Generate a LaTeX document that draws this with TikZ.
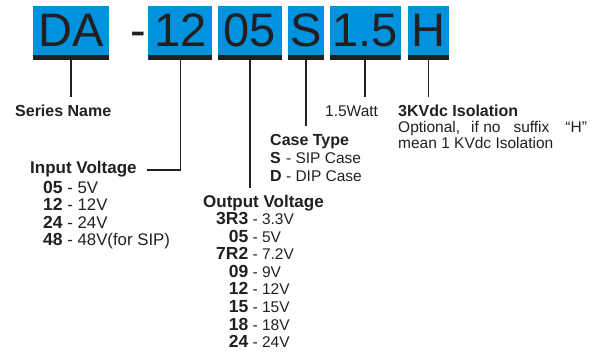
\documentclass[tikz,border=0pt]{standalone}
\usepackage{fontspec}
\setmainfont{Liberation Sans}
\usetikzlibrary{positioning}
\definecolor{codeblue}{RGB}{0,146,221}
\definecolor{inkblack}{RGB}{35,31,32}

\begin{document}
\begin{tikzpicture}[
    x=1pt, y=-1pt,
    every node/.style={font=\fontsize{15.5}{17.3}\selectfont, inner sep=0pt, text=inkblack},
    code/.style={fill=codeblue, minimum width=#1, minimum height=54pt, text height=34pt, text depth=6pt,
        font=\fontsize{47}{47}\selectfont,
        path picture={\fill[inkblack] (path picture bounding box.south west) rectangle ([yshift=5pt]path picture bounding box.south east);}},
    caption/.style={anchor=base west, text height=11pt, text depth=3pt, inner ysep=8pt},
    title/.style={caption, font=\fontsize{16}{16}\selectfont\bfseries},
    bigtitle/.style={caption, font=\fontsize{17}{17}\selectfont\bfseries},
    list/.style={anchor=base west},
    lead/.style={line width=1.6pt, draw=inkblack}
]
\useasboundingbox (0,0) rectangle (598,355);
% part number boxes
\node[code=76pt] (da) at (71,33) {DA};
\node[right=21pt of da, font=\fontsize{47}{47}\selectfont, text height=34pt, text depth=6pt] (dash) {-};
\node[code=64pt, right=39pt of da] (in) {12};
\node[code=64pt, right=5pt of in] (out) {05};
\node[code=36pt, right=6pt of out] (case) {S};
\node[code=71pt, right=5pt of case] (pow) {1.5};
\node[code=41pt, right=7pt of pow] (iso) {H};
% labels
\node[title] (series) at (15,116.5) {Series Name};
\node[bigtitle] (inTitle) at (30,174) {Input Voltage};
\node[list, font=\fontsize{16.8}{17}\selectfont] (inList) at (43,193.5) {%
    \begin{tabular}[t]{@{}l@{ - }l@{}}
    \fontsize{17.5}{17}\selectfont\bfseries 05 & 5V\\
    \fontsize{17.5}{17}\selectfont\bfseries 12 & 12V\\
    \fontsize{17.5}{17}\selectfont\bfseries 24 & 24V\\
    \fontsize{17.5}{17}\selectfont\bfseries 48 & 48V(for SIP)
    \end{tabular}};
\node[bigtitle] (outTitle) at (203,207.5) {Output Voltage};
\node[list, font=\fontsize{15.5}{17.6}\selectfont] (outList) at (216,224.5) {%
    \begin{tabular}[t]{@{}r@{ - }l@{}}
    \fontsize{17.5}{17.6}\selectfont\bfseries 3R3 & 3.3V\\
    \fontsize{17.5}{17.6}\selectfont\bfseries 05 & 5V\\
    \fontsize{17.5}{17.6}\selectfont\bfseries 7R2 & 7.2V\\
    \fontsize{17.5}{17.6}\selectfont\bfseries 09 & 9V\\
    \fontsize{17.5}{17.6}\selectfont\bfseries 12 & 12V\\
    \fontsize{17.5}{17.6}\selectfont\bfseries 15 & 15V\\
    \fontsize{17.5}{17.6}\selectfont\bfseries 18 & 18V\\
    \fontsize{17.5}{17.6}\selectfont\bfseries 24 & 24V
    \end{tabular}};
\node[title] (caseTitle) at (270,145.5) {Case Type};
\node[list, font=\fontsize{15.5}{18}\selectfont] (caseList) at (270,163.5) {%
    \begin{tabular}[t]{@{}l@{ - }l@{}}
    \fontsize{16}{18}\selectfont\bfseries S & SIP Case\\
    \fontsize{16}{18}\selectfont\bfseries D & DIP Case
    \end{tabular}};
\node[caption] (powText) at (325,116.5) {1.5Watt};
\node[title] (isoTitle) at (398,116.5) {3KVdc Isolation};
\node[list, font=\fontsize{15.5}{16}\selectfont] (isoText) at (398,132.5) {%
    \begin{tabular}[t]{@{}l@{}}
    Optional,\hspace{11pt}if no\hspace{13pt}suffix\hspace{16pt}“H”\\
    mean 1 KVdc Isolation
    \end{tabular}};
% leads
\draw[lead] (da.south) -- (da.south |- series.north);
\draw[lead, shorten >=10pt] (in.south) |- (inTitle.east);
\draw[lead] (out.south) -- (out.south |- outTitle.north);
\draw[lead] (case.south) -- (case.south |- caseTitle.north);
\draw[lead] (pow.south) -- (pow.south |- powText.north);
\draw[lead] (iso.south) -- (iso.south |- isoTitle.north);
\end{tikzpicture}
\end{document}
